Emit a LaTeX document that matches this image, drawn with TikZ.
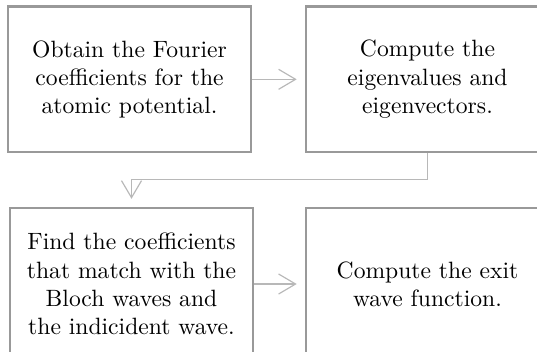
\documentclass[tikz,border=0pt]{standalone}
\usetikzlibrary{arrows.meta}
\begin{document}
\begin{tikzpicture}[x=0.4237pt,y=-0.4237pt,
  box/.style={draw=black!40, line width=1.02pt, align=center, text=black,
    minimum width=103pt, font=\fontsize{10}{12}\selectfont, inner sep=0pt},
  conn/.style={draw=black!28, line width=0.5pt,
    -{Straight Barb[length=7.2pt,width=8.5pt]}, shorten >=3.4pt}]
\useasboundingbox (0,0) rectangle (537,351);
\clip (0,0) rectangle (537,351);
\node[box, minimum height=61.65pt] (tl) at (129.5,79.3)
  {Obtain the Fourier\\coefficients for the\\atomic potential.};
\node[box, minimum height=61.65pt] (tr) at (427.5,79.3)
  {Compute the\\eigenvalues and\\eigenvectors.};
\node[box, minimum height=64.4pt] (bl) at (131.5,284)
  {Find the coefficients\\that match with the\\Bloch waves and\\the indicident wave.};
\node[box, minimum height=64.4pt] (br) at (427.5,284)
  {Compute the exit\\wave function.};
\draw[conn] (tl.east) -- (tr.west);
\draw[conn] (tr.south) -- ++(0,26) -| (bl.north);
\draw[conn] (bl.east) -- (br.west);
\end{tikzpicture}
\end{document}
